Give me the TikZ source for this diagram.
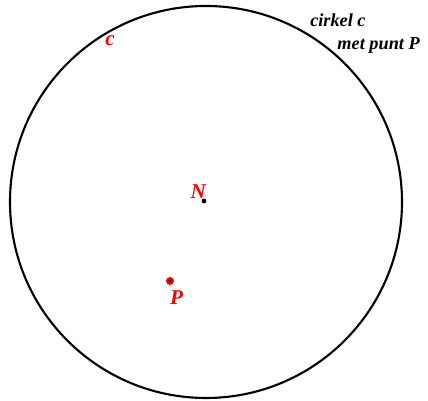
\documentclass[tikz,border=0pt]{standalone}
\usepackage{fontspec}
\setmainfont{Liberation Serif}
\usepackage{tikz}
\usetikzlibrary{positioning}

\begin{document}
\begin{tikzpicture}[
    lbl/.style={font=\fontsize{13}{15}\selectfont\bfseries\itshape, inner sep=0pt},
    redlbl/.style={lbl, font=\fontsize{15}{17}\selectfont\bfseries\itshape, text=red},
    pnt/.style={circle, fill=black, inner sep=0pt, minimum size=0.12cm}
  ]
    \useasboundingbox (0,0) rectangle (10.7,10.025);

    % circle c with centre N
    \coordinate (m) at (5.15,4.975);
    \draw[line width=1.5pt] (m) circle (4.9);

    \node[pnt] (n) at (5.1,5.0) {};
    \node[redlbl, above left=0.02cm and -0.1cm of n] (nl) {N};

    \node[circle, fill=red, inner sep=0pt, minimum size=0.2cm] (p) at (4.25,3.0) {};
    \node[pnt, minimum size=0.08cm] at (p) {};
    \node[redlbl, below right=0.16cm and -0.08cm of p] (pl) {P};

    \node[redlbl] (cl) at (2.75,9.0) {c};

    \node[lbl, anchor=west] (t1) at (7.75,9.52) {cirkel c};
    \node[lbl, anchor=west] (t2) at (8.43,8.9) {met punt P};
  \end{tikzpicture}
\end{document}
